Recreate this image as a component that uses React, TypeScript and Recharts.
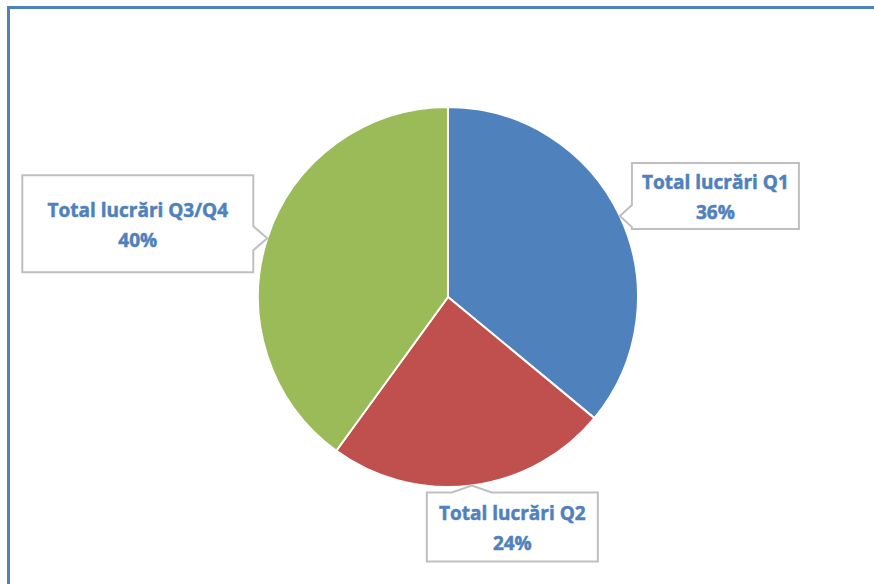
import { PieChart, Pie, Cell } from "recharts";

const categories = ["Total lucrări Q1", "Total lucrări Q2", "Total lucrări Q3/Q4"];
const values = [36, 24, 40];
const colors = ["#4F81BD", "#C0504D", "#9BBB59"];

const data = categories.map((name, i) => ({ name, value: values[i] }));

// callout box placement relative to the tip on the slice edge
const callouts = [
  { dx: 12, dy: -53, w: 167, h: 66, side: "left" },
  { dx: -45, dy: 7, w: 171, h: 69, side: "top" },
  { dx: -245, dy: -63, w: 231, h: 97, side: "right" },
];

const RADIAN = Math.PI / 180;

function Callout(props: any) {
  const { cx, cy, midAngle, outerRadius, percent, name, index } = props;
  const tx = cx + outerRadius * Math.cos(-midAngle * RADIAN);
  const ty = cy + outerRadius * Math.sin(-midAngle * RADIAN);
  const c = callouts[index];
  const x0 = tx + c.dx;
  const y0 = ty + c.dy;
  const x1 = x0 + c.w;
  const y1 = y0 + c.h;
  let d = "";
  if (c.side === "left") {
    const n = 11;
    d = `M${x0},${y0} L${x1},${y0} L${x1},${y1} L${x0},${y1} L${x0},${ty + n} L${tx},${ty} L${x0},${ty - n} Z`;
  } else if (c.side === "right") {
    const n = 12;
    d = `M${x0},${y0} L${x1},${y0} L${x1},${ty - n} L${tx},${ty} L${x1},${ty + n} L${x1},${y1} L${x0},${y1} Z`;
  } else {
    const n = 20;
    d = `M${x0},${y0} L${tx - n},${y0} L${tx},${ty} L${tx + n},${y0} L${x1},${y0} L${x1},${y1} L${x0},${y1} Z`;
  }
  const mx = (x0 + x1) / 2;
  const my = (y0 + y1) / 2;
  const textStyle = {
    fill: "#4F81BD",
    stroke: "#4F81BD",
    strokeWidth: 0.5,
    fontFamily: "'Open Sans', sans-serif",
    fontWeight: 700,
    fontSize: 19,
  };
  return (
    <g>
      <path d={d} fill="#FFFFFF" stroke="#BFBFBF" strokeWidth={2} />
      <text x={mx} y={my - 14} textAnchor="middle" dominantBaseline="central" style={textStyle}>
        {name}
      </text>
      <text x={mx} y={my + 16} textAnchor="middle" dominantBaseline="central" style={textStyle}>
        {`${Math.round(percent * 100)}%`}
      </text>
    </g>
  );
}

export default function App() {
  return (
    <div
      style={{
        position: "absolute",
        left: 0,
        top: 0,
        width: 874,
        height: 584,
        overflow: "hidden",
        background: "#FFFFFF",
      }}
    >
      <div
        style={{
          position: "absolute",
          left: 7,
          top: 6,
          width: 900,
          height: 600,
          borderTop: "3px solid #4F81BD",
          borderLeft: "3px solid #4F81BD",
        }}
      />
      <div style={{ position: "absolute", left: 0, top: 0 }}>
        <PieChart width={874} height={584} margin={{ top: 0, right: 0, bottom: 0, left: 0 }}>
          <Pie
            data={data}
            dataKey="value"
            nameKey="name"
            cx={448}
            cy={297}
            outerRadius={190}
            startAngle={90}
            endAngle={-270}
            stroke="#FFFFFF"
            strokeWidth={2}
            labelLine={false}
            label={Callout}
            isAnimationActive={false}
          >
            {data.map((d, i) => (
              <Cell key={d.name} fill={colors[i]} />
            ))}
          </Pie>
        </PieChart>
      </div>
    </div>
  );
}
